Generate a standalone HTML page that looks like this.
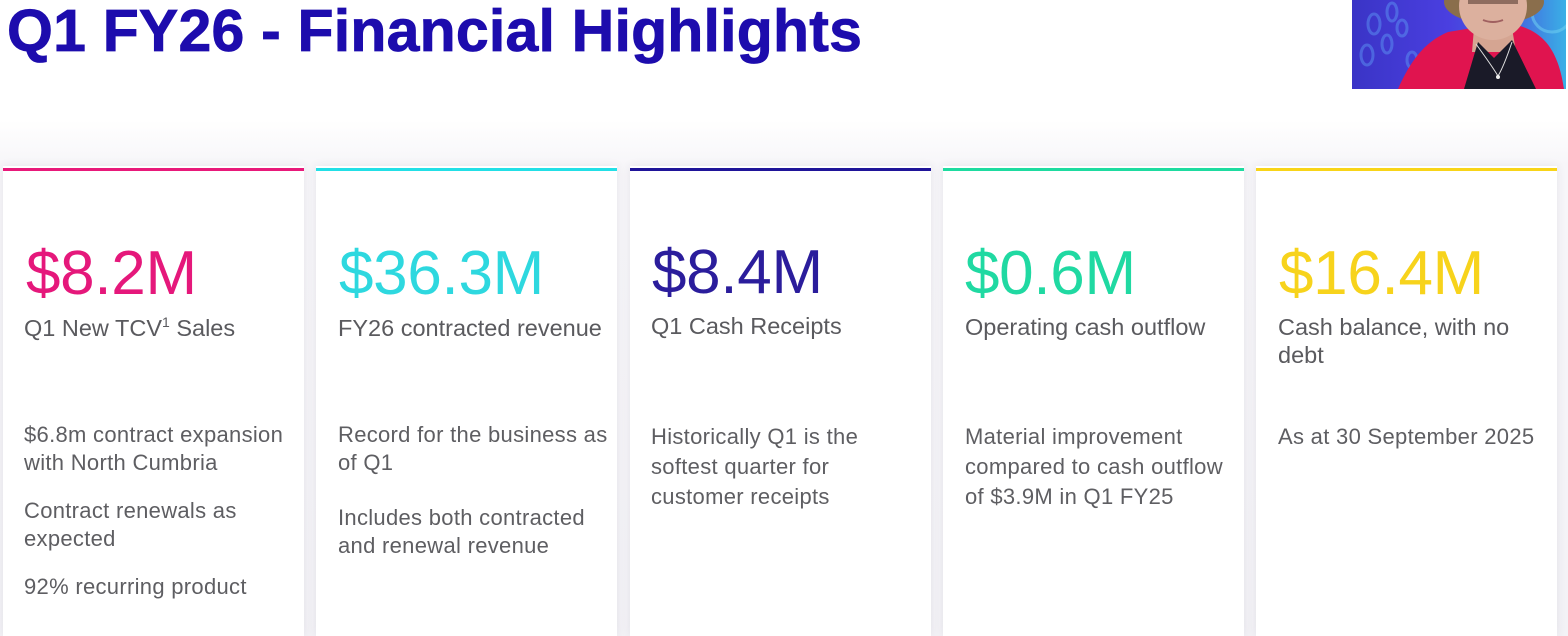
<!DOCTYPE html>
<html>
<head>
<meta charset="utf-8">
<style>
  html,body{margin:0;padding:0;}
  body{width:1568px;height:636px;overflow:hidden;position:relative;background:#ffffff;font-family:"Liberation Sans",sans-serif;}
  .title{position:absolute;left:7px;top:2px;font-size:59px;line-height:59px;font-weight:bold;color:#1d0cad;white-space:nowrap;letter-spacing:0.2px;-webkit-text-stroke:0.8px #1d0cad;}
  .bgband{position:absolute;left:0;top:120px;width:1568px;height:516px;background:linear-gradient(#ffffff,#f7f6f9 45px,#f3f2f6);}
  .card{position:absolute;top:166px;width:301px;height:470px;background:#fff;box-shadow:0 0 9px rgba(60,60,90,0.09);}
  .bar{position:absolute;top:168px;height:3px;width:301px;}
  .num{position:absolute;font-size:62px;line-height:62px;white-space:nowrap;letter-spacing:-0.3px;}
  .sub{position:absolute;font-size:23.5px;line-height:28px;color:#5a5a5e;white-space:nowrap;}
  .body{position:absolute;font-size:22px;line-height:28px;color:#5e5e62;white-space:nowrap;letter-spacing:0.3px;}
  .body.l30{line-height:30px;}
  sup{font-size:14px;vertical-align:9px;line-height:0;}
</style>
</head>
<body>
<div class="bgband"></div>

<div class="title">Q1 FY26 - Financial Highlights</div>

<!-- webcam -->
<svg style="position:absolute;left:1352px;top:0" width="214" height="89" viewBox="0 0 214 89">
  <defs>
    <linearGradient id="bg" x1="0" y1="0" x2="1" y2="0">
      <stop offset="0" stop-color="#3a34c6"/>
      <stop offset="0.45" stop-color="#4a3fe0"/>
      <stop offset="0.8" stop-color="#4272e0"/>
      <stop offset="1" stop-color="#3ab0e6"/>
    </linearGradient>
  </defs>
  <rect width="214" height="89" fill="url(#bg)"/>
  <g fill="none" stroke="#5a8cf0" stroke-width="3" opacity="0.55">
    <ellipse cx="22" cy="24" rx="6" ry="10"/>
    <ellipse cx="40" cy="12" rx="5" ry="9"/>
    <ellipse cx="15" cy="55" rx="6" ry="10"/>
    <ellipse cx="35" cy="44" rx="5" ry="9"/>
    <ellipse cx="50" cy="28" rx="5" ry="8"/>
    <ellipse cx="60" cy="60" rx="5" ry="8"/>
  </g>
  <circle cx="200" cy="12" r="20" fill="none" stroke="#70d0f0" stroke-width="3" opacity="0.55"/>
  <!-- jacket -->
  <path d="M46 89 C58 62 72 42 96 32 L132 26 L150 40 L168 26 C188 32 206 46 212 89 Z" fill="#e0144f"/>
  <!-- hair -->
  <ellipse cx="142" cy="2" rx="50" ry="22" fill="#8a6e4c"/>
  <!-- neck -->
  <path d="M122 28 L160 28 L164 52 L120 52 Z" fill="#d5a592"/>
  <!-- black top -->
  <path d="M126 42 L142 58 L160 40 L184 89 L112 89 Z" fill="#1a1a28"/>
  <!-- face -->
  <ellipse cx="141" cy="6" rx="34" ry="34" fill="#dcb09e"/>
  <path d="M116 0 L166 0 L166 4 L116 4 Z" fill="#5a4036" opacity="0.6"/>
  <path d="M131 20 Q141 24 151 20" fill="none" stroke="#a06060" stroke-width="2"/>
  <path d="M124 44 Q140 66 146 76 Q152 66 160 42" fill="none" stroke="#e0e0e0" stroke-width="1"/>
  <circle cx="146" cy="77" r="2" fill="#eee"/>
</svg>

<!-- cards -->
<div class="card" style="left:3px"></div>
<div class="card" style="left:316px"></div>
<div class="card" style="left:630px"></div>
<div class="card" style="left:943px"></div>
<div class="card" style="left:1256px"></div>

<div class="bar" style="left:3px;background:#e8197a"></div>
<div class="bar" style="left:316px;background:#22dfe6"></div>
<div class="bar" style="left:630px;background:#1f1499"></div>
<div class="bar" style="left:943px;background:#1edba0"></div>
<div class="bar" style="left:1256px;background:#f8d418"></div>

<!-- card 1 -->
<div class="num" style="left:26px;top:243px;color:#e5187b">$8.2M</div>
<div class="sub" style="left:24px;top:314px">Q1 New TCV<sup>1</sup> Sales</div>
<div class="body" style="left:24px;top:421px">$6.8m contract expansion<br>with North Cumbria</div>
<div class="body" style="left:24px;top:497px">Contract renewals as<br>expected</div>
<div class="body" style="left:24px;top:573px">92% recurring product</div>

<!-- card 2 -->
<div class="num" style="left:339px;top:243px;color:#2ed8df">$36.3M</div>
<div class="sub" style="left:338px;top:314px">FY26 contracted revenue</div>
<div class="body" style="left:338px;top:421px">Record for the business as<br>of Q1</div>
<div class="body" style="left:338px;top:504px">Includes both contracted<br>and renewal revenue</div>

<!-- card 3 -->
<div class="num" style="left:652px;top:242px;color:#2b1d9c">$8.4M</div>
<div class="sub" style="left:651px;top:312px">Q1 Cash Receipts</div>
<div class="body l30" style="left:651px;top:422px">Historically Q1 is the<br>softest quarter for<br>customer receipts</div>

<!-- card 4 -->
<div class="num" style="left:965px;top:243px;color:#20d9a2">$0.6M</div>
<div class="sub" style="left:965px;top:313px">Operating cash outflow</div>
<div class="body l30" style="left:965px;top:422px">Material improvement<br>compared to cash outflow<br>of $3.9M in Q1 FY25</div>

<!-- card 5 -->
<div class="num" style="left:1279px;top:243px;color:#f7d31c">$16.4M</div>
<div class="sub" style="left:1278px;top:313px">Cash balance, with no<br>debt</div>
<div class="body" style="left:1278px;top:423px">As at 30 September 2025</div>

</body>
</html>
